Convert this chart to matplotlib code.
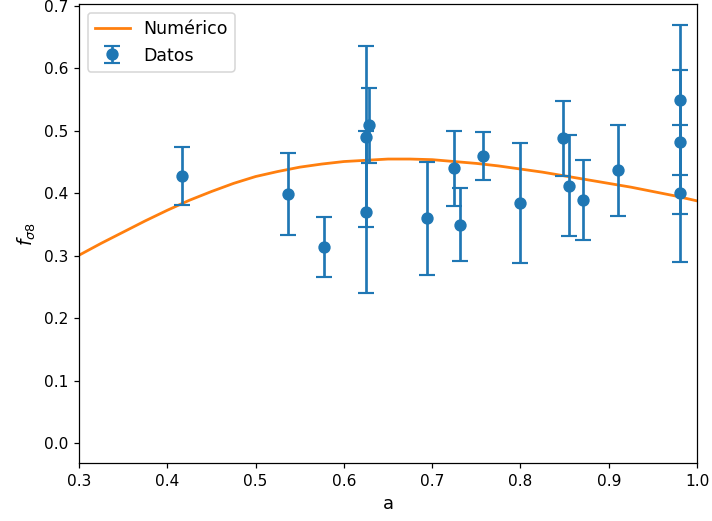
import matplotlib
matplotlib.use("Agg")
import matplotlib.pyplot as plt
import numpy as np

# observational data: scale factor, f*sigma8, error
a_data = [0.4167, 0.537, 0.5775, 0.625, 0.625, 0.629, 0.694, 0.725, 0.731, 0.758,
          0.800, 0.8486, 0.855, 0.8705, 0.910, 0.9807, 0.9807, 0.9807]
fs8_data = [0.428, 0.399, 0.314, 0.491, 0.370, 0.509, 0.360, 0.440, 0.350, 0.460,
            0.384, 0.488, 0.412, 0.389, 0.437, 0.549, 0.482, 0.400]
fs8_err = [0.046, 0.066, 0.048, 0.145, 0.130, 0.060, 0.090, 0.060, 0.059, 0.038,
           0.096, 0.060, 0.081, 0.064, 0.073, 0.120, 0.115, 0.110]

# numerical solution
a_num = [0.300, 0.325, 0.350, 0.375, 0.400, 0.425, 0.450, 0.475, 0.500, 0.525,
         0.550, 0.575, 0.600, 0.625, 0.650, 0.675, 0.700, 0.725, 0.750, 0.775,
         0.800, 0.825, 0.850, 0.875, 0.900, 0.925, 0.950, 0.975, 1.000]
fs8_num = [0.301, 0.320, 0.338, 0.356, 0.373, 0.389, 0.403, 0.416, 0.427, 0.435,
           0.442, 0.447, 0.451, 0.453, 0.455, 0.455, 0.454, 0.451, 0.448, 0.444,
           0.439, 0.434, 0.428, 0.422, 0.416, 0.410, 0.403, 0.396, 0.388]

dpi = 111
fig = plt.figure(figsize=(712 / dpi, 521 / dpi), dpi=dpi)
ax = fig.add_axes([0.111, 0.111, 0.868, 0.881])

ax.plot(a_num, fs8_num, color='C1', lw=1.8, label='Numérico')
ax.errorbar(a_data, fs8_data, yerr=fs8_err, fmt='o', color='C0', capsize=5.4,
            markersize=7, elinewidth=1.75, capthick=1.4, label='Datos')

ax.set_xlim(0.3, 1.0)
ax.set_ylim(-0.032, 0.703)
ax.set_xlabel('a', fontsize=11.5)
ax.set_ylabel(r'$f_{\sigma8}$', fontsize=12)
ax.legend(loc='upper left', fontsize=11.3)

fig.savefig('out.png', dpi=dpi)
